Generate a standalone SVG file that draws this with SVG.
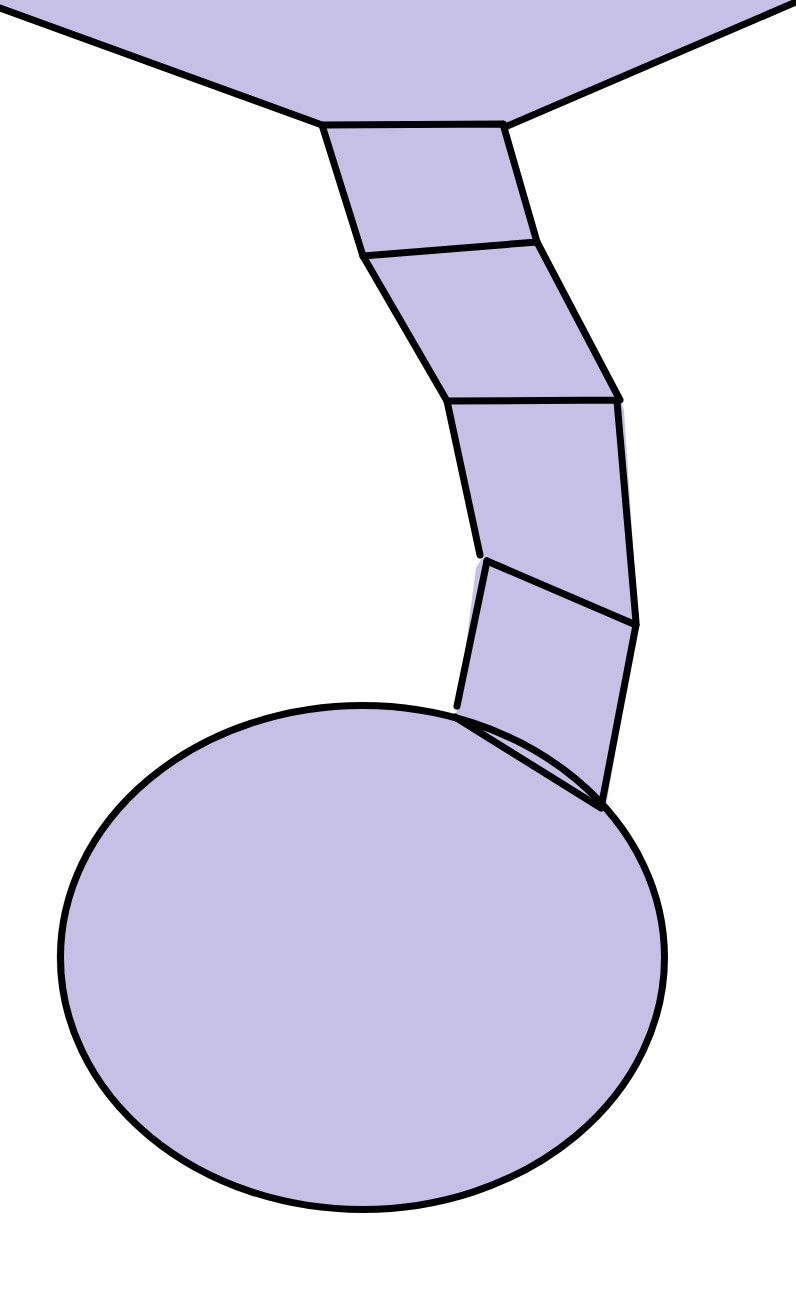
<svg xmlns="http://www.w3.org/2000/svg" width="796" height="1314" viewBox="0 0 796 1314">
<style>
.f{fill:#C6C0E6;stroke:none}
.s{fill:none;stroke:#000;stroke-width:7;stroke-linecap:round;stroke-linejoin:round}
</style>
<rect width="796" height="1314" fill="#fff"/>
<g id="top-body">
<polygon class="f" points="0,0 796,0 796,2 505,127 322,125 0,8"/>
<path class="s" d="M0,8 L322,125 M505,127 L796,2"/>
</g>
<g id="chain-fill">
<polygon class="f" points="322,125 503,125 537,242 621,401 624,410 638,622 606,806 455,716 458,706 476,568 483,556 447,402 363,256"/>
</g>
<g id="ball">
<ellipse class="f" cx="361" cy="957" rx="304.5" ry="254"/>
<ellipse class="s" cx="362.5" cy="957.5" rx="302" ry="252"/>
</g>
<g id="segment-1">
<path class="s" d="M322,125 L503,124 M322,125 L363,256 M503,124 L537,242 M363,256 L537,242"/>
</g>
<g id="segment-2">
<path class="s" d="M363,256 L447,401 M537,242 L620,400 M447,401 L620,400"/>
</g>
<g id="segment-3">
<path class="s" d="M447,401 L480,555 M617,401 L636,622 M487,561 L636,625"/>
</g>
<g id="segment-4">
<path class="s" d="M487,561 L457,706 M636,625 L601,808 M455,717 L601,808"/>
</g>
</svg>
